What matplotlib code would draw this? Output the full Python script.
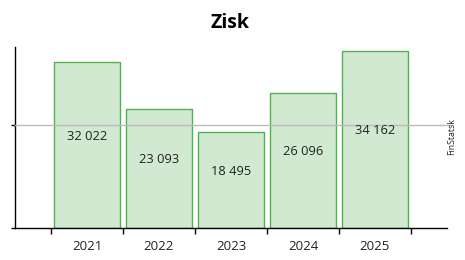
import matplotlib
matplotlib.use("Agg")
import matplotlib.pyplot as plt
import numpy as np

plt.rcParams['font.family'] = ['Open Sans', 'DejaVu Sans']

years = ["2021", "2022", "2023", "2024", "2025"]
profit = [32022, 23093, 18495, 26096, 34162]
labels = ["32 022", "23 093", "18 495", "26 096", "34 162"]

W, H = 465, 260
fig = plt.figure(figsize=(W / 100, H / 100), dpi=100)
ax = fig.add_axes([15 / W, 1 - 228 / H, 432 / W, 181 / H])

x = np.arange(len(years))
ax.bar(x, profit, width=0.917, color='#d1e9d1', edgecolor='#4db34d',
       linewidth=1.0, zorder=2)

ax.axhline(20000, color='#bbbbbb', linewidth=1.0, zorder=3, xmax=1.01, clip_on=False)

for xi, v, lab in zip(x, profit, labels):
    ax.annotate(lab, (xi, v / 2), xytext=(0, 6.5), textcoords='offset points',
                ha='center', va='center', fontsize=9.3, color='#222222', zorder=4)

ax.set_xlim(-1, 5)
ax.set_ylim(0, 35000)

ax.set_xticks(np.arange(-0.5, 5.0, 1.0))
ax.set_xticklabels([])
ax.set_xticks(x, minor=True)
ax.set_xticklabels(years, minor=True, fontsize=9.5, color='#222222')
ax.tick_params(axis='x', which='major', direction='out', length=4, width=1, color='black')
ax.tick_params(axis='x', which='minor', length=0, pad=9)

ax.set_yticks([0, 20000])
ax.set_yticklabels([])
ax.tick_params(axis='y', direction='out', length=3, width=1, color='black')

for s in ['top', 'right']:
    ax.spines[s].set_visible(False)
for s in ['left', 'bottom']:
    ax.spines[s].set_color('black')
    ax.spines[s].set_linewidth(1.0)

fig.text(230 / W, 1 - 28 / H, "Zisk", ha='center', va='baseline',
         fontsize=14, fontweight='bold', color='black')

fig.text(452 / W, 1 - 155 / H, "FinStatsk", rotation=90, ha='center', va='bottom',
         fontsize=6.3, color='#222222')

fig.savefig("out.png", dpi=100)
